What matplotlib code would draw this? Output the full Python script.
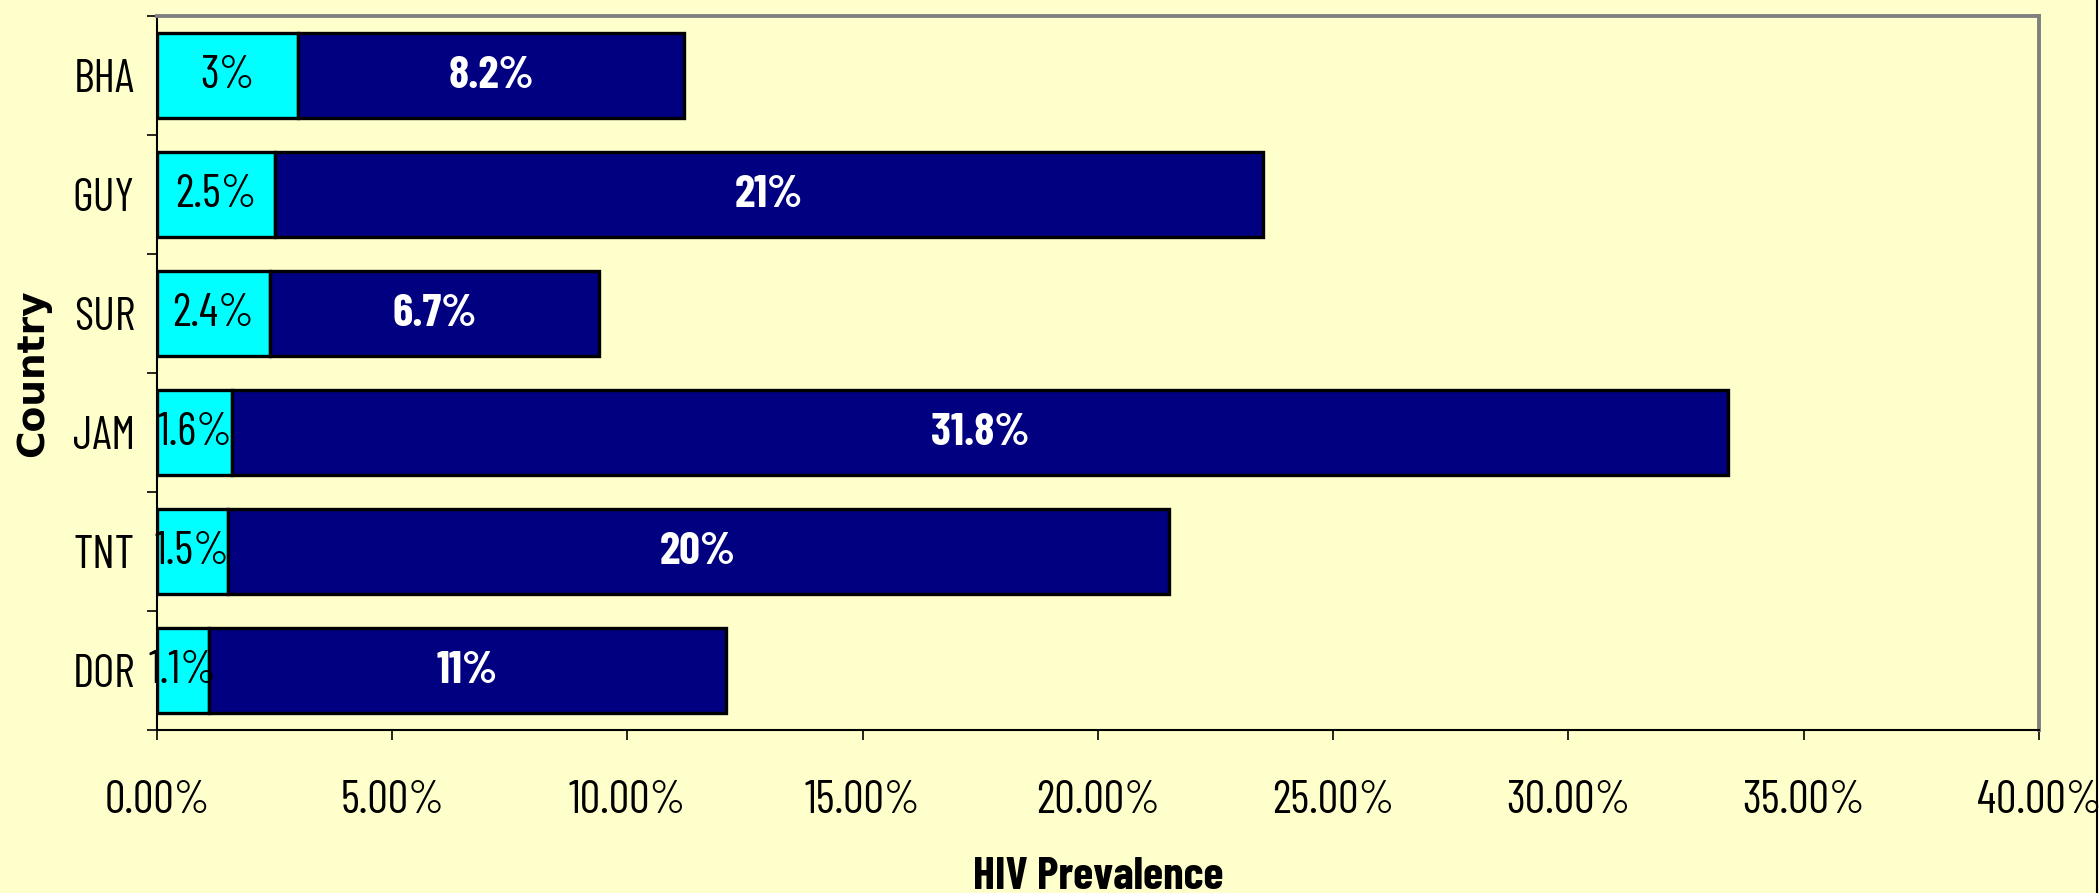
import matplotlib
matplotlib.use('Agg')
import matplotlib.pyplot as plt
import numpy as np
from matplotlib.ticker import PercentFormatter, FixedLocator

# ── Data ──────────────────────────────────────────────────────
countries   = ['BHA', 'GUY', 'SUR', 'JAM', 'TNT', 'DOR']
first_part  = [3.0, 2.5, 2.4, 1.6, 1.5, 1.1]
second_part = [8.2, 21.0, 7.0, 31.8, 20.0, 11.0]
first_lbl   = ['3%', '2.5%', '2.4%', '1.6%', '1.5%', '1.1%']
second_lbl  = ['8.2%', '21%', '6.7%', '31.8%', '20%', '11%']
x_ticks     = [0, 5, 10, 15, 20, 25, 30, 35, 40]

BG    = '#FFFFCC'
CYAN  = '#00FFFF'
NAVY  = '#000080'
NARROW = ['Barlow Condensed', 'DejaVu Sans']
FS = 33

plt.rcParams['font.family'] = NARROW

fig = plt.figure(figsize=(20.99, 8.93), dpi=100, facecolor=BG)
ax = fig.add_axes([0.0748, 0.1825, 0.8966, 0.7995], facecolor=BG)

y = np.arange(len(countries))
h = 0.71

ax.barh(y, first_part, height=h, color=CYAN, edgecolor='black', linewidth=2.4)
ax.barh(y, second_part, left=first_part, height=h, color=NAVY,
        edgecolor='black', linewidth=2.4)

# ── Segment labels ────────────────────────────────────────────
for i in range(len(countries)):
    ax.text(first_part[i] / 2, y[i], first_lbl[i], ha='center', va='center',
            fontsize=FS, color='black')
    ax.text(first_part[i] + second_part[i] / 2, y[i], second_lbl[i],
            ha='center', va='center', fontsize=FS, color='white',
            fontweight='bold')

# ── Axes ──────────────────────────────────────────────────────
ax.set_xlim(0, 40)
ax.set_ylim(len(countries) - 0.5, -0.5)

ax.xaxis.set_major_locator(FixedLocator(x_ticks))
ax.xaxis.set_major_formatter(PercentFormatter(decimals=2))
ax.tick_params(axis='x', direction='out', length=7, width=1.2,
               labelsize=FS, pad=29)

ax.set_yticks(y)
ax.set_yticklabels(countries)
ax.yaxis.set_minor_locator(FixedLocator(np.arange(-0.5, len(countries), 1)))
ax.tick_params(axis='y', which='major', length=0, labelsize=FS, pad=16)
ax.tick_params(axis='y', which='minor', direction='out', length=7, width=1.2)

for side in ['left', 'bottom']:
    ax.spines[side].set_color('black')
    ax.spines[side].set_linewidth(1.5)
for side in ['top', 'right']:
    ax.spines[side].set_color('#808080')
    ax.spines[side].set_linewidth(2.8)

ax.set_xlabel('HIV Prevalence', fontsize=FS, fontweight='bold')
ax.xaxis.set_label_coords(0.5, -0.178)
ax.set_ylabel('Country', fontsize=27, fontweight='bold', family='DejaVu Sans')
ax.yaxis.set_label_coords(-0.056, 0.5)

# thin frame line at the right edge of the picture
fig.add_artist(plt.Line2D([0.9992, 0.9992], [0, 1], color='black', lw=1.5,
                          transform=fig.transFigure))

fig.savefig('out.png', dpi=100, facecolor=BG)
